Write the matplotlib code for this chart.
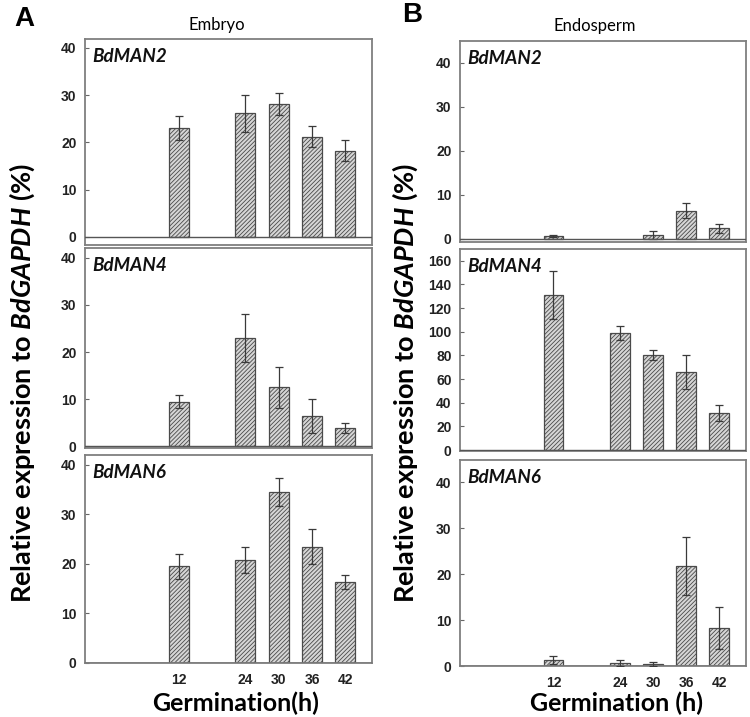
import numpy as np
import matplotlib
matplotlib.use("Agg")
import matplotlib.pyplot as plt

plt.rcParams['hatch.linewidth'] = 0.6
plt.rcParams['mathtext.fontset'] = 'custom'
plt.rcParams['mathtext.bfit'] = 'Lato:italic:bold'
plt.rcParams['mathtext.it'] = 'Lato:italic'
plt.rcParams['mathtext.bf'] = 'Lato:bold'
plt.rcParams['mathtext.rm'] = 'Lato'

hours = [12, 24, 30, 36, 42]
genes = ["BdMAN2", "BdMAN4", "BdMAN6"]

# embryo (panel A)
emb_man2 = [23.0, 26.2, 28.1, 21.2, 18.3]
emb_man2_err = [2.5, 3.9, 2.3, 2.2, 2.3]
emb_man4 = [9.4, 22.9, 12.5, 6.4, 3.8]
emb_man4_err = [1.4, 5.1, 4.3, 3.7, 1.1]
emb_man6 = [19.5, 20.8, 34.5, 23.5, 16.4]
emb_man6_err = [2.5, 2.6, 2.8, 3.6, 1.4]

# endosperm (panel B), no bar at 24 h for BdMAN2
end_man2 = [0.7, 0.0, 0.9, 6.4, 2.4]
end_man2_err = [0.3, 0.0, 0.9, 1.7, 1.1]
end_man4 = [131.2, 99.3, 80.2, 66.3, 31.6]
end_man4_err = [20.0, 6.0, 4.2, 14.4, 6.8]
end_man6 = [1.3, 0.6, 0.4, 21.8, 8.2]
end_man6_err = [0.9, 0.6, 0.5, 6.3, 4.6]

W, H = 750, 717
fig = plt.figure(figsize=(7.5, 7.17), dpi=100)

def box(x0, y0, x1, y1):
    return [x0 / W, 1 - y1 / H, (x1 - x0) / W, (y1 - y0) / H]

tick_font = dict(family="Liberation Sans", weight="bold", size=10)
lab_font = "Lato"

panels = [
    # (box pixels, values, errors, ylim, yticks)
    ((85, 39, 372, 245), emb_man2, emb_man2_err, (-1.7, 41.9), np.arange(0, 41, 10)),
    ((85, 248, 372, 448), emb_man4, emb_man4_err, (-0.4, 42.1), np.arange(0, 41, 10)),
    ((85, 455, 372, 663), emb_man6, emb_man6_err, (0, 42.0), np.arange(0, 41, 10)),
    ((460, 41, 746, 242), end_man2, end_man2_err, (-0.7, 45.0), np.arange(0, 41, 10)),
    ((460, 249, 746, 451), end_man4, end_man4_err, (-0.8, 170), np.arange(0, 161, 20)),
    ((460, 460, 746, 666), end_man6, end_man6_err, (0, 44.8), np.arange(0, 41, 10)),
]

for i, (px, vals, errs, ylim, yt) in enumerate(panels):
    ax = fig.add_axes(box(*px))
    x = np.array(hours)
    v = np.array(vals)
    e = np.array(errs)
    show = v > 0
    ax.bar(x[show], v[show], width=3.6, color="#d6d6d6", edgecolor="#4a4a4a",
           linewidth=0.9, hatch="////////", zorder=2)
    ax.errorbar(x[show], v[show], yerr=e[show], fmt="none", ecolor="#3a3a3a",
                elinewidth=0.9, capsize=3, capthick=0.9, zorder=3)
    ax.axhline(0, color="#555555", lw=1.0, zorder=4)
    ax.set_xlim(-4.9, 46.8)
    ax.set_ylim(*ylim)
    ax.set_yticks(yt)
    ax.set_yticklabels([str(t) for t in yt], **tick_font)
    ax.tick_params(axis="y", direction="in", length=3, width=0.8, color="#666666",
                   pad=6, labelcolor="#222222")
    if i % 3 == 2:
        ax.set_xticks(hours)
        ax.set_xticklabels([str(h) for h in hours], **tick_font)
        ax.tick_params(axis="x", length=0, pad=7, labelcolor="#222222")
    else:
        ax.set_xticks([])
    for s in ax.spines.values():
        s.set_color("#7f7f7f")
        s.set_linewidth(1.3)
    ax.text(0.025, 0.955, genes[i % 3], transform=ax.transAxes, ha="left", va="top",
            fontsize=13.5, fontstyle="italic", fontweight="bold",
            family=lab_font, color="#111111")

fig.text(14 / W, 1 - 19 / H, "A", fontsize=20, fontweight="bold", family="Liberation Sans",
         ha="left", va="center")
fig.text(402 / W, 1 - 15 / H, "B", fontsize=20, fontweight="bold", family="Liberation Sans",
         ha="left", va="center")
fig.text(217 / W, 1 - 25 / H, "Embryo", fontsize=12, family=lab_font, ha="center", va="center")
fig.text(595 / W, 1 - 26 / H, "Endosperm", fontsize=12, family=lab_font, ha="center", va="center")

for xc in (22, 405):
    fig.text(xc / W, 1 - 383 / H, "Relative expression to $\\mathbfit{BdGAPDH}$ (%)",
             rotation=90, fontsize=19.5, fontweight="bold", family=lab_font,
             ha="center", va="center")

fig.text(236 / W, 1 - 703 / H, "Germination(h)", fontsize=18, fontweight="bold",
         family=lab_font, ha="center", va="center")
fig.text(617 / W, 1 - 703 / H, "Germination (h)", fontsize=18, fontweight="bold",
         family=lab_font, ha="center", va="center")

fig.savefig("out.png", dpi=100)
